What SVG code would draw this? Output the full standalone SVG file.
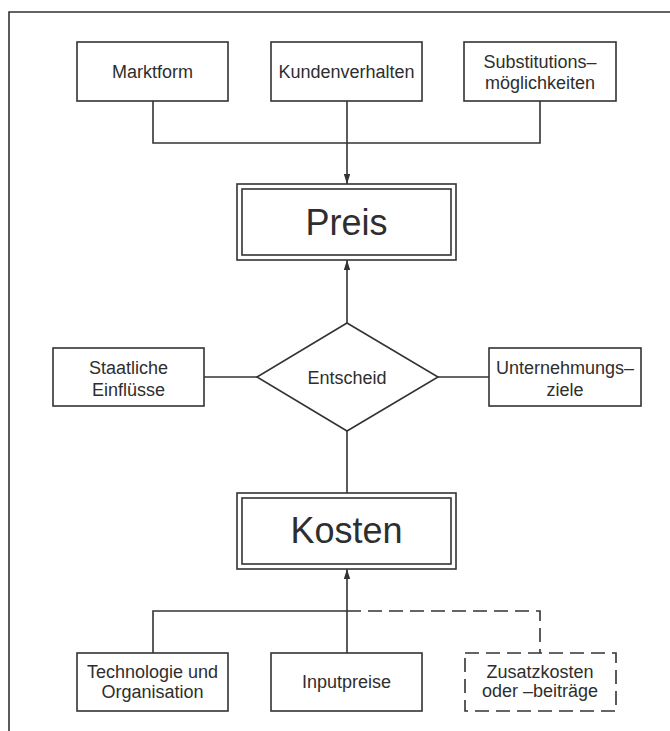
<svg xmlns="http://www.w3.org/2000/svg" width="670" height="731" viewBox="0 0 670 731">
  <defs>
    <style>
      .box { fill: #ffffff; stroke: #333333; stroke-width: 1.6; }
      .dbox { fill: #ffffff; stroke: #333333; stroke-width: 1.6; stroke-dasharray: 14 7; }
      .ln { fill: none; stroke: #333333; stroke-width: 1.6; }
      .dln { fill: none; stroke: #333333; stroke-width: 1.6; stroke-dasharray: 14 7; }
      .t { font-family: "Liberation Sans", Arial, sans-serif; font-size: 18px; fill: #2e2e2e; text-anchor: middle; }
      .big { font-family: "Liberation Sans", Arial, sans-serif; font-size: 36px; fill: #2e2e2e; text-anchor: middle; }
    </style>
    <marker id="arr" viewBox="0 0 10 10" refX="10" refY="5" markerWidth="10" markerHeight="10" markerUnits="userSpaceOnUse" orient="auto">
      <path d="M0,1.8 L10,5 L0,8.2 Z" fill="#333333"/>
    </marker>
  </defs>
  <rect width="670" height="731" fill="#ffffff"/>
  <g id="frame">
    <path class="ln" d="M9,731 L9,12 L670,12"/>
  </g>
  <g id="connectors">
    <path class="ln" d="M153,101 L153,143 L540,143 L540,101"/>
    <path class="ln" d="M347,101 L347,184" marker-end="url(#arr)"/>
    <path class="ln" d="M347,323 L347,260" marker-end="url(#arr)"/>
    <path class="ln" d="M204,377 L257,377"/>
    <path class="ln" d="M438,377 L489,377"/>
    <path class="ln" d="M347,431 L347,493"/>
    <path class="ln" d="M347,653 L347,569" marker-end="url(#arr)"/>
    <path class="ln" d="M153,653 L153,611 L347,611"/>
    <path class="dln" d="M347,611 L540,611 L540,653"/>
  </g>
  <g id="marktform">
    <rect class="box" x="77" y="42" width="151" height="59"/>
    <text class="t" x="152.5" y="78">Marktform</text>
  </g>
  <g id="kundenverhalten">
    <rect class="box" x="271" y="42" width="151" height="59"/>
    <text class="t" x="346.5" y="78">Kundenverhalten</text>
  </g>
  <g id="substitution">
    <rect class="box" x="464" y="42" width="152" height="59"/>
    <text class="t" x="540" y="67.5">Substitutions–</text>
    <text class="t" x="540" y="88.5">möglichkeiten</text>
  </g>
  <g id="preis">
    <rect class="box" x="237" y="184" width="219" height="76"/>
    <rect class="box" x="242" y="189" width="209" height="66"/>
    <text class="big" x="346.5" y="235">Preis</text>
  </g>
  <g id="entscheid">
    <path class="box" d="M347,323 L438,377 L347,431 L257,377 Z"/>
    <text class="t" x="347" y="384">Entscheid</text>
  </g>
  <g id="staatliche">
    <rect class="box" x="53" y="348" width="151" height="58"/>
    <text class="t" x="128.5" y="374">Staatliche</text>
    <text class="t" x="128.5" y="395.5">Einflüsse</text>
  </g>
  <g id="unternehmungsziele">
    <rect class="box" x="489" y="348" width="152" height="58"/>
    <text class="t" x="565" y="374">Unternehmungs–</text>
    <text class="t" x="565" y="395.5">ziele</text>
  </g>
  <g id="kosten">
    <rect class="box" x="237" y="493" width="219" height="76"/>
    <rect class="box" x="242" y="498" width="209" height="66"/>
    <text class="big" x="346.5" y="543">Kosten</text>
  </g>
  <g id="technologie">
    <rect class="box" x="77" y="653" width="151" height="58"/>
    <text class="t" x="152.5" y="677.5">Technologie und</text>
    <text class="t" x="152.5" y="698">Organisation</text>
  </g>
  <g id="inputpreise">
    <rect class="box" x="271" y="653" width="151" height="58"/>
    <text class="t" x="346.5" y="688">Inputpreise</text>
  </g>
  <g id="zusatzkosten">
    <rect class="dbox" x="465" y="653" width="151" height="58"/>
    <text class="t" x="540" y="678">Zusatzkosten</text>
    <text class="t" x="540" y="697">oder –beiträge</text>
  </g>
</svg>
